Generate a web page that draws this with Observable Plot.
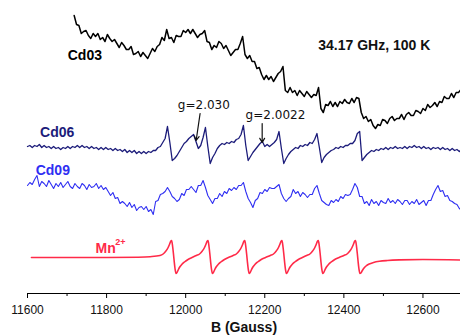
<!DOCTYPE html>
<html>
<head>
<meta charset="utf-8">
<script src="https://cdn.jsdelivr.net/npm/d3@7"></script>
<script src="https://cdn.jsdelivr.net/npm/@observablehq/plot@0.6"></script>
<style>
  html, body { margin: 0; padding: 0; background: #fff; }
</style>
</head>
<body>
<div id="chart"></div>
<script>
// ---- Data ----
// Field axis (Gauss)
const fieldDomain = [11600, 12700];
const majorTicks = [11600, 11800, 12000, 12200, 12400, 12600];
const minorTicks = [11700, 11900, 12100, 12300, 12500];

// Sampling grids of the recorded spectra (Gauss)
const cd03Start = 11718, cd06Start = 11600, cd09Start = 11600, sampleStep = 6;

// Vertical stacking offsets of the four traces (arb. units)
const traceNames = ["Cd03", "Cd06", "Cd09", "Mn2+"];
const traceOffsets = [233, 146, 108, 36];

// Cd03 intensity (arb. units)
const cd03 = [45,36,35,27,29,30,25,22,27,24,27,21,23,19,26,22,19,21,17,13,18,15,11,11,14,6,7,9,4,8,
  5,2,7,12,9,14,16,23,20,31,22,23,18,25,24,24,30,28,31,27,31,27,23,26,27,30,19,18,11,15,
  13,19,17,12,15,10,5,8,11,11,17,24,6,2,5,-1,-1,-8,-7,-14,-19,-15,-19,-16,-21,-17,-13,-11,-6,-30,
  -32,-27,-32,-30,-35,-30,-33,-36,-31,-34,-37,-34,-35,-27,-48,-52,-44,-45,-41,-46,-42,-46,-41,-43,-39,-42,-43,-38,-42,-37,
  -38,-52,-58,-56,-61,-59,-65,-68,-64,-65,-59,-60,-63,-58,-56,-60,-58,-58,-54,-59,-54,-52,-55,-55,-50,-51,-53,-48,-50,-44,
  -47,-45,-42,-46,-41,-42,-36,-38,-38,-33,-37,-32,-32,-29];

// Cd06 intensity (arb. units)
const cd06 = [1,2,0,2,1,3,0,2,0,1,-1,1,-1,0,-2,0,-1,1,-1,1,0,2,0,2,0,1,-1,1,-1,0,
  -2,0,-2,0,-2,-1,-3,-1,-3,-2,-4,-2,-5,-3,-5,-3,-6,-4,-6,-4,-6,-4,-5,-3,-3,0,1,5,9,21,
  5,-13,-11,-8,-4,0,4,6,9,11,13,6,-1,2,10,20,1,-16,-10,-6,-1,2,4,3,5,4,6,5,8,9,
  13,22,2,-13,-9,-5,-2,1,4,6,1,3,1,3,5,8,16,-1,-16,-11,-7,-4,-2,0,-1,2,1,3,2,5,
  4,8,14,0,-15,-10,-7,-5,-3,-2,0,-1,1,0,2,2,4,4,7,14,16,-13,-10,-7,-5,-3,-4,-2,-3,-1,
  -2,0,-2,0,-1,1,-1,0,-1,1,-1,1,0,2,0,1,-1,1,-1,0,-2,0,-1,0,-2,0,-2,-1,-3,-1,
  -3,-2,-4,-2];

// Cd09 intensity (arb. units)
const cd09 = [0,3,1,6,10,-1,4,2,-1,5,1,-3,2,-1,3,-2,1,4,-1,-3,2,-1,-3,2,0,-4,1,-2,-1,2,
  -3,0,-4,-2,-6,-10,-7,-13,-12,-18,-16,-18,-21,-17,-22,-19,-25,-22,-21,-24,-21,-26,-24,-29,-16,-15,-9,-8,-6,-2,
  -6,-11,-13,-16,-14,-8,-10,-4,-4,-1,-4,-7,0,0,5,-2,-10,-14,-18,-13,-13,-8,-11,-6,-8,-3,-5,-2,-4,0,
  0,3,-6,-13,-17,-22,-15,-13,-7,-8,-4,-6,-2,-3,-3,-1,1,-8,-13,-16,-13,-11,-4,-8,-6,-11,-7,-9,-12,-9,
  -9,-3,0,-8,-15,-17,-19,-20,-15,-17,-14,-16,-11,-13,-9,-10,-9,-4,2,-2,-11,-11,-18,-16,-20,-14,-18,-16,-20,-15,
  -17,-18,-13,-17,-15,-18,-14,-16,-19,-15,-15,-19,-16,-18,-14,-19,-17,-15,-20,-15,-15,-9,-4,0,-6,-5,-11,-10,-15,-16,
  -18,-19,-23,-25];

// Mn2+ simulated spectrum: field (G) and intensity (arb. units)
const mnField = [11610,11700,11800,11880,11910,
  11935,11943,11950,11955,11959,11962,11964.5,11967,11969,11971,11973,11975.5,11978,11981,11985,11990,11997,12006,12016,
  12027,12035,12042,12047,12051,12054,12056.5,12059,12061,12063,12065,12067.5,12070,12073,12077,12082,12089,12098,12108,
  12120,12128,12135,12140,12144,12147,12149.5,12152,12154,12156,12158,12160.5,12163,12166,12170,12175,12182,12191,12202,
  12214,12222,12229,12234,12238,12241,12243.5,12246,12248,12250,12252,12254.5,12257,12260,12264,12269,12276,12285,12295,
  12306,12314,12321,12326,12330,12333,12335.5,12338,12340,12342,12344,12346.5,12349,12352,12356,12361,12368,12377,12388,
  12400,12408,12415,12420,12424,12427,12429.5,12432,12434,12436,12438,12440.5,12443,12446,12450,12456,12464,12475,12490,12510,12540,12600,12700];
const mnInt = [0,0,0,0.3,0.8,
  2,3.5,6.5,9.5,13,16,17,11,4,-4,-11,-16,-15,-12.5,-9.5,-7,-4.5,-2,0,
  2,3.5,6.5,9.5,13,16,17,11,4,-4,-11,-16,-15,-12.5,-9.5,-7,-4.5,-2,0,
  2,3.5,6.5,9.5,13,16,17,11,4,-4,-11,-16,-15,-12.5,-9.5,-7,-4.5,-2,0,
  2,3.5,6.5,9.5,13,16,17,11,4,-4,-11,-16,-15,-12.5,-9.5,-7,-4.5,-2,0,
  2,3.5,6.5,9.5,13,16,17,11,4,-4,-11,-16,-15,-12.5,-9.5,-7,-4.5,-2,0,
  2,3.5,6.5,9.5,13,16,17,11,4,-4,-11,-16,-15.5,-13.5,-11,-8.5,-6.5,-5,-3.8,-3,-2.4,-2,-2.5];

// Experiment and marked g-values
const frequencyGHz = 34.17, temperatureK = 100;
const gValues = [2.030, 2.0022];
const gLabels = ["g=2.030", "g=2.0022"];

const traceColors = ["#000000", "#1c1c7a", "#2f2ff2", "#ff2a48"];

// ---- Build tables ----
const h = 6.62607015e-34, muB = 9.2740100783e-24;
const resonanceField = g => (h * frequencyGHz * 1e9) / (g * muB) * 1e4; // Gauss

const cd03Rows = cd03.map((v, i) => ({B: cd03Start + i * sampleStep, I: v + traceOffsets[0]}));
const cd06Rows = cd06.map((v, i) => ({B: cd06Start + i * sampleStep, I: v + traceOffsets[1]}));
const cd09Rows = cd09.map((v, i) => ({B: cd09Start + i * sampleStep, I: v + traceOffsets[2]}));
const mnRows = mnField.map((b, i) => ({B: b, I: mnInt[i] + traceOffsets[3]}));

// annotation anchors (field G, stacked intensity)
const labelRows = [
  {text: traceNames[0], B: 11745, I: 238, color: traceColors[0]},
  {text: traceNames[1], B: 11675, I: 161, color: traceColors[1]},
  {text: traceNames[2], B: 11664, I: 123, color: traceColors[2]},
  {text: `${frequencyGHz} GHz, ${temperatureK} K`, B: 12477, I: 248, color: "#111"}
];
const gArrowRows = [
  {text: gLabels[0], Bt: 12046, It: 188, B1: resonanceField(gValues[0]) + 10, I1: 180, B2: resonanceField(gValues[0]), I2: 153},
  {text: gLabels[1], Bt: 12227, It: 178, B1: resonanceField(gValues[1]), I1: 170, B2: resonanceField(gValues[1]), I2: 151}
];

const chart = Plot.plot({
  width: 460,
  height: 335,
  marginLeft: 27,
  marginRight: 0,
  marginTop: 0,
  marginBottom: 42,
  style: {fontFamily: "'Liberation Sans', Arial, sans-serif", fontSize: "12px", background: "#fff", color: "#111", overflow: "visible"},
  x: {domain: fieldDomain, range: [27, 462]},
  y: {domain: [0, 293], axis: null},
  marks: [
    Plot.ruleY([0], {stroke: "#000", strokeWidth: 1.2}),
    Plot.axisX({ticks: majorTicks, tickSize: 5, tickPadding: 7, tickFormat: d => String(d), fontSize: 12, label: null, stroke: "#000", color: "#111"}),
    Plot.axisX({ticks: minorTicks, tickSize: 3, tickFormat: () => "", label: null, stroke: "#000"}),
    Plot.text(["B (Gauss)"], {frameAnchor: "bottom", dy: 38, fontWeight: "bold", fontSize: 14, fill: "#111"}),

    Plot.line(cd03Rows, {x: "B", y: "I", stroke: traceColors[0], strokeWidth: 1.5}),
    Plot.line(cd06Rows, {x: "B", y: "I", stroke: traceColors[1], strokeWidth: 1.3}),
    Plot.line(cd09Rows, {x: "B", y: "I", stroke: traceColors[2], strokeWidth: 1.1}),
    Plot.line(mnRows, {x: "B", y: "I", stroke: traceColors[3], strokeWidth: 1.6, curve: "monotone-x"}),

    Plot.text(labelRows, {x: "B", y: "I", text: "text", fill: "color", fontWeight: "bold", fontSize: 14}),
    Plot.text(["Mn"], {x: [11772], y: [45], textAnchor: "start", fill: traceColors[3], fontWeight: "bold", fontSize: 14}),
    Plot.text(["2+"], {x: [11822], y: [51], textAnchor: "start", fill: traceColors[3], fontWeight: "bold", fontSize: 9}),

    Plot.arrow(gArrowRows, {x1: "B1", y1: "I1", x2: "B2", y2: "I2", stroke: "#111", strokeWidth: 1.2, headLength: 6}),
    Plot.text(gArrowRows, {x: "Bt", y: "It", text: "text", fill: "#111", fontSize: 12, fontFamily: "'DejaVu Sans', sans-serif"})
  ]
});
document.getElementById("chart").appendChild(chart);
</script>
</body>
</html>
